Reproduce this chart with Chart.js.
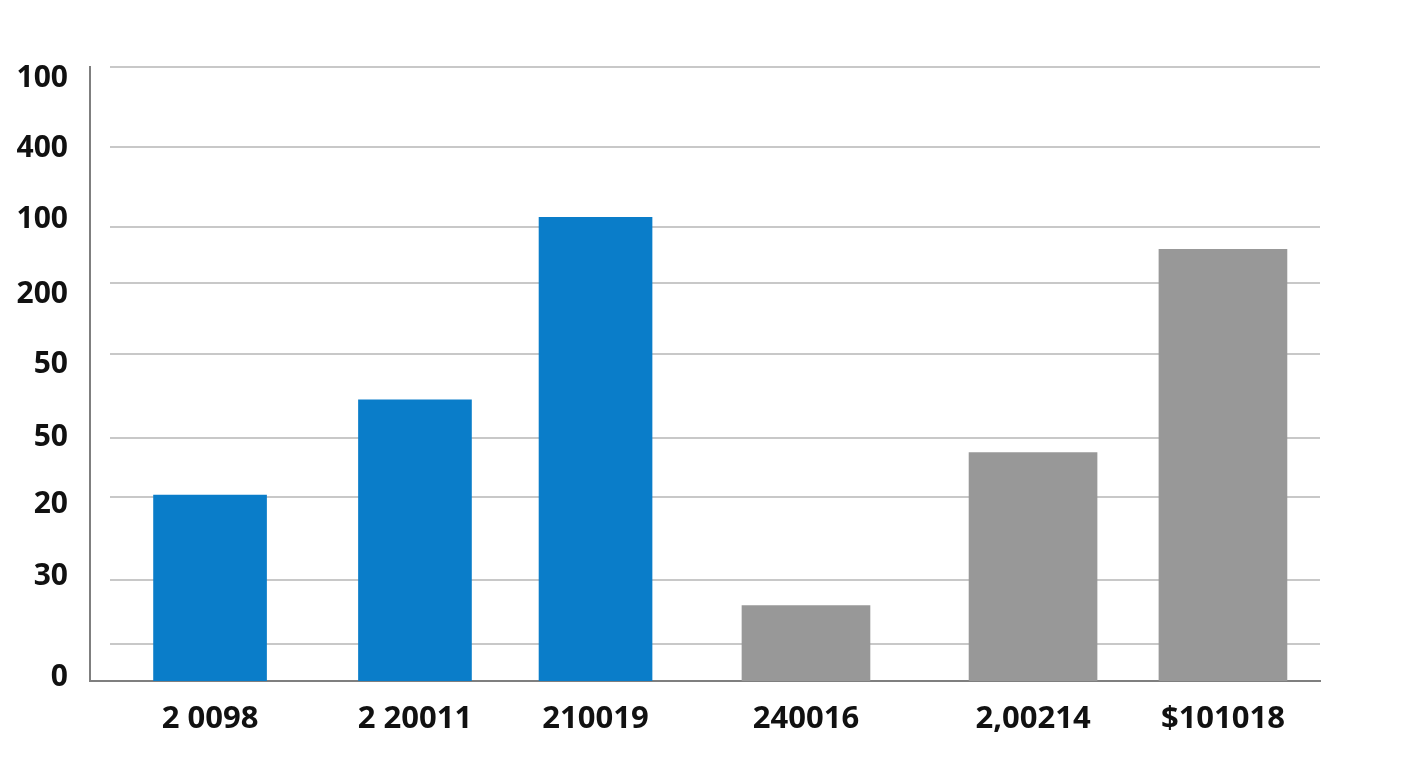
<!DOCTYPE html>
<html>
<head>
<meta charset="utf-8">
<script src="https://cdn.jsdelivr.net/npm/chart.js@4.4.1/dist/chart.umd.min.js"></script>
<style>
  html, body { margin: 0; padding: 0; background: #fff; }
</style>
</head>
<body>
<canvas id="barChart" width="1408" height="768"></canvas>
<script>
  // categorias e valores (unidades do eixo: 0 = base, 100 = topo da area)
  const categorias = ['2 0098', '2 20011', '210019', '240016', '2,00214', '$101018'];
  const posicoesX = [9.76, 26.42, 41.10, 58.21, 76.67, 92.11];
  const valores = [30.3, 45.8, 75.5, 12.3, 37.2, 70.3];
  const grupos = ['azul', 'azul', 'azul', 'cinza', 'cinza', 'cinza'];

  // eixo y: rotulos (de baixo para cima) e linhas de grade
  const rotulosY = ['0', '30', '20', '50', '50', '200', '100', '400', '100'];
  const valoresRotulosY = [0.5, 17.1, 28.7, 39.6, 51.5, 63.0, 75.1, 86.8, 98.2];
  const linhasGrade = [6.1, 16.45, 29.9, 39.5, 53.3, 64.8, 73.9, 87.0, 100];

  const cores = { azul: '#0a7dc9', cinza: '#989898' };
  const larguras = { azul: 113, cinza: 128 };

  Chart.defaults.font.family = "'Open Sans', sans-serif";
  Chart.defaults.font.weight = 'bold';
  Chart.defaults.color = '#111';

  const gradePlugin = {
    id: 'grade',
    beforeDatasetsDraw(chart) {
      const { ctx, chartArea, scales } = chart;
      ctx.save();
      ctx.strokeStyle = '#c8c8c8';
      ctx.lineWidth = 2;
      linhasGrade.forEach(v => {
        const y = Math.round(scales.y.getPixelForValue(v));
        ctx.beginPath();
        ctx.moveTo(chartArea.left + 20, y);
        ctx.lineTo(chartArea.right, y);
        ctx.stroke();
      });
      ctx.restore();
    }
  };

  const datasets = ['azul', 'cinza'].map(g => ({
    label: g,
    data: posicoesX
      .map((x, i) => (grupos[i] === g ? { x: x, y: valores[i] } : null))
      .filter(p => p !== null),
    backgroundColor: cores[g],
    barThickness: larguras[g],
    grouped: false
  }));

  const ctx = document.getElementById('barChart').getContext('2d');

  new Chart(ctx, {
    type: 'bar',
    data: { datasets: datasets },
    options: {
      responsive: false,
      animation: false,
      layout: { padding: { top: 67, right: 88, bottom: 0, left: 0 } },
      plugins: {
        legend: { display: false },
        tooltip: { enabled: false }
      },
      scales: {
        x: {
          type: 'linear',
          min: 0,
          max: 100,
          offset: false,
          z: 1,
          afterBuildTicks: scale => {
            scale.ticks = posicoesX.map(v => ({ value: v }));
          },
          afterFit: scale => { scale.height = 87; },
          ticks: {
            autoSkip: false,
            maxRotation: 0,
            padding: 20,
            font: { size: 31, weight: 'bold' },
            callback: (value, index) => categorias[index]
          },
          grid: { drawOnChartArea: false, drawTicks: false, offset: false },
          border: { display: true, color: '#7f7f7f', width: 2 }
        },
        y: {
          type: 'linear',
          min: 0,
          max: 100,
          afterBuildTicks: scale => {
            scale.ticks = valoresRotulosY.map(v => ({ value: v }));
          },
          afterFit: scale => { scale.width = 90; },
          ticks: {
            autoSkip: false,
            padding: 22,
            font: { size: 30, weight: 'bold' },
            callback: (value, index) => rotulosY[index]
          },
          grid: { drawOnChartArea: false, drawTicks: false },
          border: { display: true, color: '#7f7f7f', width: 2 }
        }
      }
    },
    plugins: [gradePlugin]
  });
</script>
</body>
</html>
